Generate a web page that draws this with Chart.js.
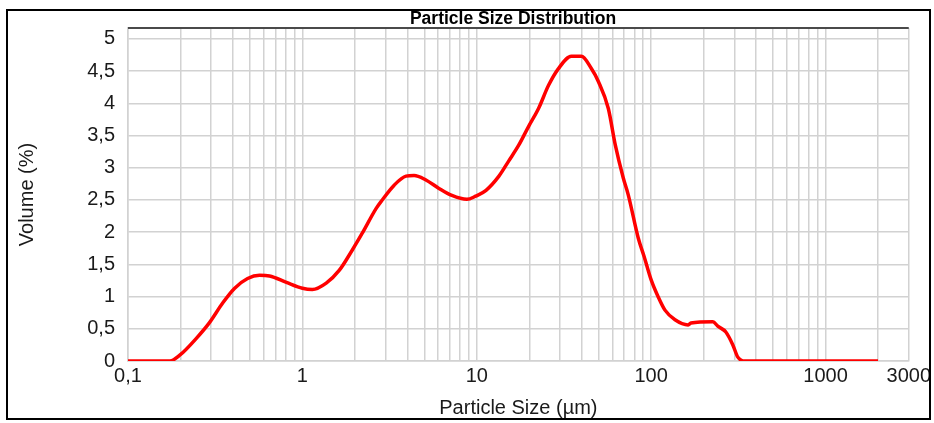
<!DOCTYPE html>
<html>
<head>
<meta charset="utf-8">
<script src="https://cdn.jsdelivr.net/npm/chart.js@4.4.1/dist/chart.umd.min.js"></script>
<style>
  html, body { margin: 0; padding: 0; background: #fff; }
  canvas { display: block; }
</style>
</head>
<body>
<canvas id="psd" width="934" height="423"></canvas>
<script>
// particle size (µm) and volume (%)
const sizes = [0.1, 0.174, 0.198, 0.248, 0.294, 0.349, 0.409, 0.485, 0.568, 0.648,
	0.81, 1.0, 1.14, 1.37, 1.63, 1.93, 2.2, 2.65, 2.87, 3.36,
	3.93, 4.37, 5.11, 6.07, 7.2, 8.77, 9.87, 11.3, 13.4, 15.2,
	17.4, 19.8, 22.6, 25.8, 29.4, 34.9, 39.8, 45.4, 49.8, 56.8,
	62.3, 69.2, 73.9, 84.3, 91.2, 100, 110, 120, 137, 163,
	169, 226, 241, 268, 294, 314, 344, 2000];
const volumes = [0, 0, 0.09, 0.36, 0.60, 0.90, 1.13, 1.28, 1.33, 1.32,
	1.22, 1.13, 1.11, 1.21, 1.41, 1.72, 1.98, 2.37, 2.50, 2.73,
	2.87, 2.88, 2.81, 2.68, 2.57, 2.51, 2.56, 2.65, 2.87, 3.10,
	3.35, 3.64, 3.92, 4.28, 4.54, 4.73, 4.73, 4.54, 4.34, 3.92,
	3.35, 2.84, 2.58, 1.91, 1.62, 1.26, 0.99, 0.79, 0.64, 0.56,
	0.59, 0.61, 0.54, 0.45, 0.25, 0.06, 0, 0];

const decades = [0.1, 1, 10, 100, 1000];
const extraGrid = [2000, 3000];
const labelledSizes = [0.1, 1, 10, 100, 1000, 3000];
const yTicks = [0, 0.5, 1, 1.5, 2, 2.5, 3, 3.5, 4, 4.5, 5];

const FONT = "'Liberation Sans', Arial, sans-serif";
const gridColor = "#d2d2d2";

function gridValues() {
	let vals = [];
	decades.forEach(d => {
		for (let m = 1; m <= 9; m++) {
			if (d * m <= 1000) vals.push(d * m);
		}
	});
	return vals.concat(extraGrid);
}

const frame = {
	id: "frame",
	afterDraw(chart) {
		const {ctx, chartArea} = chart;
		ctx.save();
		// dark top edge of the plot
		ctx.strokeStyle = "#4a4a4a";
		ctx.lineWidth = 2;
		ctx.beginPath();
		ctx.moveTo(chartArea.left, chartArea.top);
		ctx.lineTo(chartArea.right, chartArea.top);
		ctx.stroke();
		// title
		ctx.fillStyle = "#000";
		ctx.font = "bold 17.5px " + FONT;
		ctx.textAlign = "center";
		ctx.textBaseline = "middle";
		ctx.fillText("Particle Size Distribution", 513, 19);
		// outer frame
		ctx.strokeStyle = "#000";
		ctx.lineWidth = 2;
		ctx.strokeRect(7, 10, 923, 409);
		ctx.restore();
	}
};

const config = {
	type: "line",
	data: {
		datasets: [{
			label: "Volume",
			data: sizes.map((s, i) => ({x: s, y: volumes[i]})),
			borderColor: "#ff0000",
			borderWidth: 3.5,
			pointRadius: 0,
			fill: false,
			cubicInterpolationMode: "monotone",
		}]
	},
	options: {
		responsive: false,
		devicePixelRatio: 1,
		animation: false,
		layout: {
			padding: {top: 28, left: 10, right: 25, bottom: 0}
		},
		plugins: {
			legend: {display: false},
			tooltip: {enabled: false},
			title: {display: false}
		},
		scales: {
			x: {
				type: "logarithmic",
				min: 0.1,
				max: 3000,
				afterBuildTicks: scale => {
					scale.ticks = gridValues().map(v => ({value: v}));
				},
				afterFit: scale => { scale.height = 62; },
				grid: {color: gridColor, lineWidth: 1.5, drawTicks: false},
				border: {color: gridColor, width: 1.5},
				ticks: {
					autoSkip: false,
					maxRotation: 0,
					minRotation: 0,
					padding: 3,
					color: "#1a1a1a",
					font: {family: FONT, size: 20},
					callback: function(value) {
						const hit = labelledSizes.find(v => Math.abs(v - value) / v < 1e-6);
						return hit === undefined ? "" : String(hit).replace(".", ",");
					}
				},
				title: {
					display: true,
					text: "Particle Size (µm)",
					color: "#1a1a1a",
					font: {family: FONT, size: 20},
					padding: {top: 0, bottom: 3}
				}
			},
			y: {
				min: 0,
				max: 5.17,
				afterBuildTicks: scale => {
					scale.ticks = yTicks.map(v => ({value: v}));
				},
				afterFit: scale => { scale.width = 118; },
				grid: {color: gridColor, lineWidth: 1.5, drawTicks: false},
				border: {color: gridColor, width: 1.5},
				ticks: {
					padding: 13,
					color: "#1a1a1a",
					font: {family: FONT, size: 20},
					callback: value => String(value).replace(".", ",")
				},
				title: {
					display: true,
					text: "Volume (%)",
					color: "#1a1a1a",
					font: {family: FONT, size: 20},
					padding: {top: 5, bottom: 0}
				}
			}
		}
	},
	plugins: [frame]
};

new Chart(document.getElementById("psd").getContext("2d"), config);
</script>
</body>
</html>
